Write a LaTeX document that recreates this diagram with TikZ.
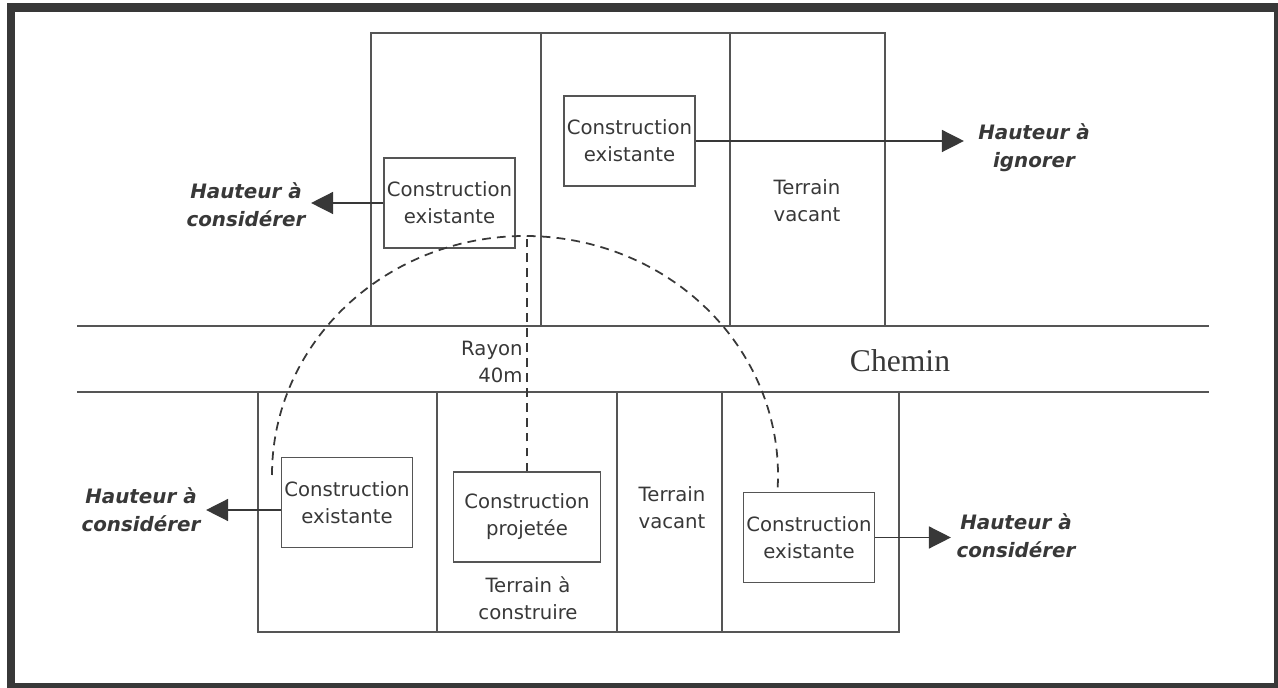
\documentclass[tikz,border=0pt]{standalone}
\usepackage{fontspec}
\newfontfamily\planfont{DejaVu Sans}
\newfontfamily\roadfont{Liberation Serif}
\usetikzlibrary{arrows.meta}
\definecolor{trait}{HTML}{555555}
\definecolor{encre}{HTML}{383838}
\tikzset{
  bati/.style={draw=trait, line width=0.8pt, minimum width=2.62cm, minimum height=1.8cm, inner sep=0pt, align=center, text=encre, font=\planfont\fontsize{11.2}{15.3}\selectfont},
  texte/.style={text=encre, align=center, inner sep=0pt, font=\planfont\fontsize{11.2}{15.3}\selectfont},
  legende/.style={text=encre, align=center, inner ysep=1pt, inner xsep=3pt, font=\planfont\bfseries\itshape\fontsize{11.3}{15.8}\selectfont},
  fleche/.style={draw=encre, line width=0.8pt, -{Triangle[length=12.5pt,width=12.5pt]}},
  pointille/.style={draw=encre, line width=1pt, dash pattern=on 5pt off 3.5pt}
}

\begin{document}
\begin{tikzpicture}[x=0.02cm, y=-0.02cm]
\useasboundingbox (0,0) rectangle (1278,688);
\draw [line width=4.8pt, encre] (11,7.5) rectangle (1278,687);

\draw [trait, line width=0.8pt] (371,326) -- (371,33) -- (885,33) -- (885,326);
\draw [trait, line width=0.8pt] (541,33) -- (541,326);
\draw [trait, line width=0.8pt] (730,33) -- (730,326);
\draw [trait, line width=0.8pt] (77,326) -- (1209,326);
\draw [trait, line width=0.8pt] (77,392) -- (1209,392);
\draw [trait, line width=0.8pt] (258,392) -- (258,632) -- (899,632) -- (899,392);
\draw [trait, line width=0.8pt] (437,392) -- (437,632);
\draw [trait, line width=0.8pt] (617,392) -- (617,632);
\draw [trait, line width=0.8pt] (722,392) -- (722,632);

\node [bati] (exist1) at (449.5,203) {Construction\\existante};
\node [bati] (exist2) at (629.5,141) {Construction\\existante};
\node [bati] (exist3) at (347,502.5) {Construction\\existante};
\node [bati] (exist4) at (809,537.5) {Construction\\existante};
\node [bati, minimum width=2.94cm] (projet) at (527,517) {Construction\\projetée};

\node [texte] (vacant1) at (807,201) {Terrain\\vacant};
\node [texte] (vacant2) at (672,508) {Terrain\\vacant};
\node [texte] (terrain) at (528,598) {Terrain à\\construire};
\node [texte, align=right, anchor=east] (rayon) at (523,362) {Rayon\\40m};
\node [text=encre, font=\roadfont\fontsize{18}{20}\selectfont] (chemin) at (900,361) {Chemin};

\node [legende] (haut1) at (246,205) {Hauteur à\\considérer};
\node [legende, inner xsep=8pt] (haut2) at (1034,148) {Hauteur à\\ignorer};
\node [legende] (haut3) at (141,510) {Hauteur à\\considérer};
\node [legende] (haut4) at (1016,536) {Hauteur à\\considérer};

\draw [fleche] (exist1.west) -- (exist1.west -| haut1.east);
\draw [fleche] (exist2.east) -- (exist2.east -| haut2.west);
\draw [fleche] (exist3.west |- haut3.east) -- (haut3.east);
\draw [fleche] (exist4.east) -- (exist4.east -| haut4.west);

\coordinate (sommet) at (527,236);
\draw [pointille] (projet.north) -- (sommet);
\draw [pointille] (272,475) arc [start angle=180, end angle=363, x radius=253, y radius=239];
\end{tikzpicture}
\end{document}
